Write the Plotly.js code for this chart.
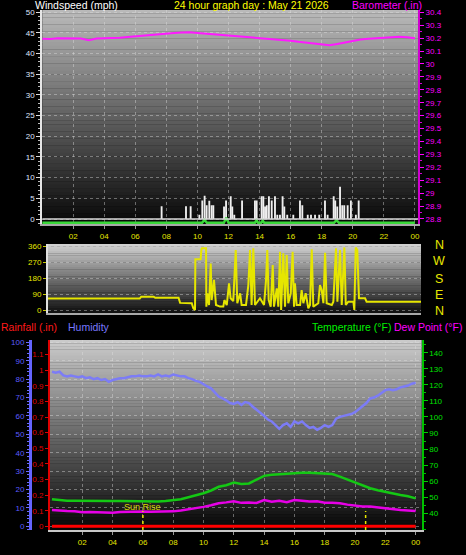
<!DOCTYPE html>
<html><head><meta charset="utf-8">
<script src="https://cdn.plot.ly/plotly-3.0.1.min.js"></script>
<style>html,body{margin:0;padding:0;background:#000;overflow:hidden}#chart{width:466px;height:555px}</style>
</head><body><div id="chart"></div>
<script>
// ---------- DATA ----------
const hourTicks = [2,4,6,8,10,12,14,16,18,20,22,24];
const hourLabels = ['02','04','06','08','10','12','14','16','18','20','22','00'];

// Wind gusts (mph) - white bars
const gustHours = [7.69,9.26,9.56,10.12,10.31,10.46,10.59,10.76,10.91,11.02,11.71,11.84,12.14,12.24,12.37,12.87,13.7,13.81,14.13,14.24,14.35,14.46,14.6,14.78,14.99,15.14,15.31,15.48,15.59,15.78,16.17,16.6,16.75,17.1,17.31,17.57,17.84,18.21,18.38,18.77,18.87,19.0,19.18,19.32,19.45,19.67,19.88,20.2,20.38];
const gustMph   = [3.1,3.1,3.1,1.0,4.5,5.6,3.3,4.4,3.3,3.3,3.0,4.5,5.5,3.0,1.0,4.5,4.5,4.5,5.5,5.5,3.0,3.3,5.5,4.5,5.5,1.0,1.0,5.5,3.0,1.0,1.0,4.5,3.3,1.0,1.0,1.0,1.0,4.5,1.0,5.5,4.5,3.0,7.8,3.3,3.3,3.3,4.5,1.0,4.5];

// Average wind speed (mph) - green line
const avgHours = [0,10.3,10.45,10.6,11.7,11.85,12.0,13.7,13.8,13.9,14.1,14.2,14.3,18.8,18.95,19.1,24];
const avgMph   = [0,0,0.7,0,0,1.2,0,0,0.6,0,0,0.5,0,0,0.6,0,0];

// Barometer (in) every 0.5 h
const baro = [30.196,30.194,30.2,30.198,30.2,30.198,30.184,30.198,30.2,30.2,30.203,30.208,30.214,30.22,30.226,30.232,30.236,30.24,30.244,30.245,30.24,30.235,30.232,30.228,30.222,30.218,30.214,30.208,30.2,30.198,30.195,30.19,30.18,30.172,30.165,30.158,30.152,30.146,30.155,30.168,30.18,30.19,30.196,30.2,30.205,30.21,30.21,30.207,30.2];

// Wind direction (degrees)
const dirHours = [0,5.9,6.0,6.8,6.9,8.4,8.5,9.25,9.35,9.46,9.48,9.82,9.87,9.91,10.17,10.19,10.25,10.36,10.47,10.53,10.68,10.81,11.07,11.28,11.35,11.5,11.65,11.75,11.92,12.08,12.18,12.36,12.46,12.74,12.89,13.0,13.1,13.21,13.32,13.64,13.9,14.03,14.11,14.2,14.33,14.46,14.54,14.72,14.82,14.93,15.0,15.14,15.25,15.36,15.46,15.62,15.74,15.83,15.89,16.0,16.22,16.32,16.43,16.58,16.75,16.86,16.97,17.07,17.39,17.5,17.61,17.72,17.83,17.93,18.26,18.36,18.53,18.62,18.79,18.9,19.07,19.16,19.32,19.65,19.71,19.8,19.9,20.01,20.4,20.5,24];
const dirDeg   = [64,64,75,75,69,69,40,38,10,0,285,285,341,347,347,19,94,28,262,56,169,28,19,19,56,28,150,66,50,337,38,94,28,28,140,337,28,347,28,66,28,169,337,56,19,253,19,122,19,328,0,319,19,309,38,94,328,19,150,28,28,112,38,94,10,28,341,19,38,140,112,38,322,38,28,47,347,47,337,28,352,28,47,47,0,352,337,66,66,47,47];

// Rainfall (in)
const rainHours = [0,24];
const rain = [0,0];

// Humidity (%) every 0.25 h
const humidity = [84,83.5,84,82,81.5,82,81.5,81,81.5,80.5,81,80,80.5,79.5,80,78.5,79.5,80,80.5,80.5,81,81.5,81.5,82,81.5,81.5,82,81.5,82.5,81.5,82,81.5,82.5,82,81.5,81.5,80.5,80,79,78.5,77,76,75,73,70.5,69.5,68.5,67,66.5,67.5,66,67.5,67,65,63.5,62,60,58,57,55,53,55,56,54,57,56,57,55,53.5,54,52.5,53.5,55,54,55,58.5,59.5,60,60.5,61,62,63.5,65,67,69.5,70,71,72.5,74,74.5,74,74.5,75.5,76,76.5,77.5,78];

// Temperature (°F) every 0.5 h
const temperature = [48.7,48.2,47.8,47.8,47.7,47.7,47.7,47.7,47.7,47.7,47.6,47.5,47.3,47.2,47.4,47.7,48.1,48.8,50,51.2,52.5,54.2,56.5,57.5,59.2,58.3,58.6,61,63.3,64,64.4,64.8,65.1,65.3,65.2,64.9,64.9,64.4,62.8,61,59,57,55.6,54.3,53.2,52.3,51.4,50.6,49.3];

// Dew point (°F) every 0.5 h
const dewPoint = [42,41.6,41.4,41.3,40.6,40.8,40.5,40.6,40.3,40.8,41,40.9,41.1,41,41,41,41.2,41.8,42.5,43,44,45,46.3,46.8,47.5,46.5,46.8,46.4,48.2,47.2,47.8,46.9,48.3,47.8,47.3,47.5,46.6,46.5,46.3,45.4,44.8,44.2,44.2,43.6,43,42.4,42,41.7,41.4];

const sunRiseHour = 6.0;
const sunSetHour = 20.7;

// ---------- helpers ----------
const W = 466, H = 555;
const px = v => v / W;
const py = v => 1 - v / H;
const halfHours = baro.map((_, i) => i * 0.5);
const quarterHours = humidity.map((_, i) => i * 0.25);
const FONT = 'Liberation Sans, Arial, sans-serif';
const GRID = 'rgba(225,225,225,0.42)';
const YEL = '#e8e800';

function gradient(x0, x1, y0, y1, cTop, cBot, n) {
  const out = [];
  const h = (y1 - y0) / n;
  for (let i = 0; i < n; i++) {
    const t = i / (n - 1);
    const c = cTop.map((v, k) => Math.round(v + (cBot[k] - v) * t));
    out.push({type: 'rect', xref: 'paper', yref: 'paper', layer: 'below',
      x0: px(x0), x1: px(x1), y0: py(y0 + (i + 1) * h + 0.3), y1: py(y0 + i * h),
      line: {width: 0}, fillcolor: `rgb(${c[0]},${c[1]},${c[2]})`});
  }
  return out;
}

const shapes = [].concat(
  gradient(42.2, 418, 10, 224, [185,185,185], [8,8,8], 60),
  gradient(48, 421, 244, 313, [208,208,208], [18,18,18], 30),
  gradient(50, 421.7, 340, 530, [202,202,202], [6,6,6], 60),
  [
    {type: 'line', xref: 'x', yref: 'y', x0: 0, x1: 24.2, y0: 0, y1: 0, line: {color: '#d8d8d8', width: 1.5}},
    {type: 'line', xref: 'x3', yref: 'paper', x0: sunRiseHour, x1: sunRiseHour, y0: py(530), y1: py(511), line: {color: YEL, width: 1.5, dash: 'dot'}},
    {type: 'line', xref: 'x3', yref: 'paper', x0: sunSetHour, x1: sunSetHour, y0: py(530), y1: py(511), line: {color: YEL, width: 1.5, dash: 'dot'}}
  ]
);

const ann = (text, x, y, color, size, xanchor) => ({text, x: px(x), y: py(y), xref: 'paper', yref: 'paper',
  showarrow: false, xanchor: xanchor || 'left', yanchor: 'middle', borderpad: 0, font: {family: FONT, size: size, color: color}});

const annotations = [
  ann('Windspeed (mph)', 34, 4.5, '#ffffff', 10.5),
  ann('24 hour graph day : May 21 2026', 251, 4.5, '#ffff00', 10.5, 'center'),
  ann('Barometer (.in)', 423, 4.5, '#ff00ff', 10.5, 'right'),
  ann('Rainfall (.in)', 0, 327, '#ff1a1a', 10.5),
  ann('Humidity', 67, 327, '#7878ff', 10.5),
  ann('Temperature (°F)', 392, 327, '#00f000', 10.5, 'right'),
  ann('Dew Point (°F)', 463, 327, '#ff00ff', 10.5, 'right'),
  ann('N', 439, 245, YEL, 12.5, 'center'),
  ann('W', 439, 261, YEL, 12.5, 'center'),
  ann('S', 439, 278.5, YEL, 12.5, 'center'),
  ann('E', 439, 295, YEL, 12.5, 'center'),
  ann('N', 439, 311, YEL, 12.5, 'center'),
  {text: 'Sun Rise', x: sunRiseHour, xref: 'x3', y: py(506.5), yref: 'paper', showarrow: false,
   xanchor: 'center', yanchor: 'middle', font: {family: FONT, size: 9, color: '#d8d800'}}
];

const traces = [
  {type: 'bar', x: gustHours, y: gustMph, xaxis: 'x', yaxis: 'y', width: 0.12,
   marker: {color: '#efefef', line: {width: 0}}, hoverinfo: 'skip'},
  {type: 'scatter', mode: 'lines', x: avgHours, y: avgMph, xaxis: 'x', yaxis: 'y3',
   line: {color: '#3ad83a', width: 2.5}, hoverinfo: 'skip'},
  {type: 'scatter', mode: 'lines', x: halfHours, y: baro, xaxis: 'x', yaxis: 'y2',
   line: {color: '#ff1aff', width: 2}, hoverinfo: 'skip'},
  {type: 'scatter', mode: 'lines', x: dirHours, y: dirDeg, xaxis: 'x2', yaxis: 'y4',
   line: {color: '#e6e600', width: 2}, hoverinfo: 'skip'},
  {type: 'scatter', mode: 'lines', x: rainHours, y: rain, xaxis: 'x3', yaxis: 'y5',
   line: {color: '#ff0000', width: 3}, hoverinfo: 'skip'},
  {type: 'scatter', mode: 'lines', x: quarterHours, y: humidity, xaxis: 'x3', yaxis: 'y6',
   line: {color: '#7c7cf6', width: 2.5}, hoverinfo: 'skip'},
  {type: 'scatter', mode: 'lines', x: halfHours, y: temperature, xaxis: 'x3', yaxis: 'y7',
   line: {color: '#14c814', width: 2.5}, hoverinfo: 'skip'},
  {type: 'scatter', mode: 'lines', x: halfHours, y: dewPoint, xaxis: 'x3', yaxis: 'y7',
   line: {color: '#e600e6', width: 2.5}, hoverinfo: 'skip'}
];

const tf = (color) => ({family: FONT, size: 8, color: color});
const hourAxis = {tickvals: hourTicks, ticktext: hourLabels, tickfont: tf('#e6e600'), ticks: 'outside', ticklen: 3,
  tickcolor: '#9a9a9a', showline: true, linewidth: 2, linecolor: '#a8a8a8', showgrid: true, gridcolor: GRID,
  griddash: 'dot', gridwidth: 1, zeroline: false, fixedrange: true};

const layout = {
  width: W, height: H, margin: {l: 0, r: 0, t: 0, b: 0},
  paper_bgcolor: '#000000', plot_bgcolor: 'rgba(0,0,0,0)', showlegend: false,
  font: {family: FONT},
  xaxis: Object.assign({}, hourAxis, {domain: [px(42.2), px(418)], range: [0, 24.2], anchor: 'y'}),
  yaxis: {domain: [py(224), py(10)], range: [-1.21, 50.56], anchor: 'x', tickvals: [0,5,10,15,20,25,30,35,40,45,50],
    tickfont: tf('#dfe5ff'), ticks: 'outside', ticklen: 4, tickcolor: '#dddddd', showline: true, linewidth: 2,
    linecolor: '#e6e6e6', showgrid: true, gridcolor: GRID, griddash: 'dot', zeroline: false, fixedrange: true,
    minor: {dtick: 1, ticks: 'outside', ticklen: 2, tickcolor: '#bbbbbb', showgrid: false}},
  yaxis2: {overlaying: 'y', side: 'right', anchor: 'x', range: [28.761, 30.418], tick0: 28.8, dtick: 0.1,
    tickfont: tf('#ff00ff'), ticks: 'outside', ticklen: 4, tickcolor: '#ff00ff', showline: true, linewidth: 2,
    linecolor: '#d000d0', showgrid: false, zeroline: false, fixedrange: true,
    minor: {dtick: 0.05, ticks: 'outside', ticklen: 2, tickcolor: '#d000d0', showgrid: false}},
  yaxis3: {overlaying: 'y', anchor: 'x', range: [-0.31, 51.45], visible: false, fixedrange: true},
  xaxis2: {domain: [px(48), px(421)], range: [0, 24], anchor: 'y4', showticklabels: false, ticks: '',
    showgrid: false, showline: true, linewidth: 2, linecolor: '#a8a8a8', zeroline: false, fixedrange: true},
  yaxis4: {domain: [py(313), py(244)], range: [-16.9, 371.25], anchor: 'x2', tickvals: [0,90,180,270,360],
    tickfont: tf('#e6e600'), ticks: 'outside', ticklen: 3, tickcolor: '#c8c800', showline: true, linewidth: 2,
    linecolor: '#e0e0e0', showgrid: true, gridcolor: GRID, griddash: 'dot', zeroline: false, fixedrange: true},
  xaxis3: Object.assign({}, hourAxis, {domain: [px(50), px(421.7)], range: [-0.13, 24.4], anchor: 'y5', linecolor: '#c8c8c8'}),
  yaxis5: {domain: [py(530), py(340)], range: [-0.0237, 1.194], anchor: 'x3', tick0: 0, dtick: 0.1,
    tickfont: tf('#e00000'), ticks: 'outside', ticklen: 3, tickcolor: '#e00000', showline: true, linewidth: 2,
    linecolor: '#e00000', showgrid: false, zeroline: false, fixedrange: true},
  yaxis6: {overlaying: 'y5', anchor: 'free', position: px(30), side: 'left', range: [-2.01, 101.25], tick0: 0, dtick: 10,
    tickfont: tf('#5c5cff'), ticks: 'outside', ticklen: 3, tickcolor: '#6a6aff', showline: true, linewidth: 3,
    linecolor: '#6464ff', showgrid: true, gridcolor: GRID, griddash: 'dot', zeroline: false, fixedrange: true,
    minor: {dtick: 2, ticks: 'outside', ticklen: 2, tickcolor: '#6a6aff', showgrid: false}},
  yaxis7: {overlaying: 'y5', side: 'right', anchor: 'x3', range: [29.6, 147.9], tickvals: [40,50,60,70,80,90,100,110,120,130,140],
    tickfont: tf('#00e000'), ticks: 'outside', ticklen: 4, tickcolor: '#00d000', showline: true, linewidth: 2,
    linecolor: '#00c000', showgrid: false, zeroline: false, fixedrange: true,
    minor: {dtick: 5, ticks: 'outside', ticklen: 2, tickcolor: '#00c000', showgrid: false}},
  shapes: shapes,
  annotations: annotations
};

Plotly.newPlot('chart', traces, layout, {displayModeBar: false, staticPlot: true});
</script></body></html>
